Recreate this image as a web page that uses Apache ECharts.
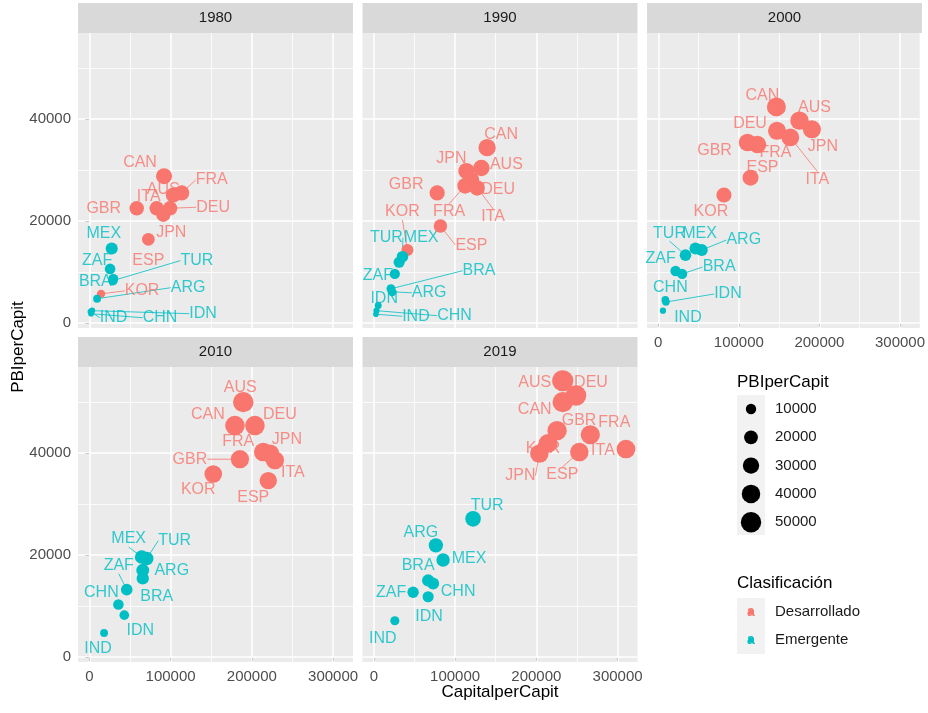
<!DOCTYPE html>
<html>
<head>
<meta charset="utf-8">
<script src="https://cdn.jsdelivr.net/npm/echarts@6/dist/echarts.min.js"></script>
<style>
  html, body { margin: 0; padding: 0; background: #fff; }
  #main { width: 928px; height: 713px; }
</style>
</head>
<body>
<div id="main"></div>
<script>
// datos
const countries = ['AUS', 'CAN', 'DEU', 'ESP', 'FRA', 'GBR', 'ITA', 'JPN', 'KOR',
                   'ARG', 'BRA', 'CHN', 'IDN', 'IND', 'MEX', 'TUR', 'ZAF'];
const clasificacion = ['Desarrollado', 'Desarrollado', 'Desarrollado', 'Desarrollado', 'Desarrollado',
                       'Desarrollado', 'Desarrollado', 'Desarrollado', 'Desarrollado',
                       'Emergente', 'Emergente', 'Emergente', 'Emergente', 'Emergente',
                       'Emergente', 'Emergente', 'Emergente'];
const years = ['1980', '1990', '2000', '2010', '2019'];

const capital1980 = [103300, 91900, 99300, 72600, 113600, 58300, 82900, 91000, 14400,
                     9500, 29500, 2100, 3300, 1500, 27500, 29000, 25500];
const pbi1980 = [25100, 28800, 22500, 16400, 25500, 22500, 22500, 21200, 5700,
                 4750, 8650, 1800, 2400, 2200, 14600, 8300, 10600];

const capital1990 = [132300, 139400, 119700, 81900, 112300, 77900, 127100, 113900, 41300,
                     22500, 21000, 3200, 5300, 2500, 31100, 35200, 25800];
const pbi1990 = [30400, 34400, 28100, 19000, 26900, 25500, 26500, 29800, 14300,
                 6100, 6700, 2400, 3400, 1700, 11900, 13000, 9600];

const capital2000 = [175300, 146600, 147400, 114500, 123200, 110800, 163900, 190700, 81500,
                     54000, 29600, 8800, 9500, 5800, 46200, 33800, 21500];
const pbi2000 = [39700, 42400, 37700, 28500, 35000, 35400, 36400, 38000, 25100,
                 14300, 9600, 4500, 4100, 2400, 14600, 13300, 10200];

const capital2010 = [189400, 179200, 203800, 220200, 214000, 185300, 228400, 222300, 152500,
                     65700, 65700, 35700, 43000, 18100, 64400, 70600, 46000];
const pbi2010 = [50000, 45400, 45400, 34600, 40200, 38800, 38600, 39900, 35900,
                 17000, 15400, 10300, 8200, 4700, 19600, 19300, 13200];

const capital2019 = [232500, 232500, 248800, 252900, 266400, 225500, 310300, 203700, 214400,
                     76300, 66800, 72900, 66800, 25800, 85200, 122100, 48300];
const pbi2019 = [54200, 50000, 51300, 40200, 43600, 44400, 40800, 39900, 41900,
                 21900, 15000, 14400, 11800, 7100, 19000, 27100, 12700];

const capitalByYear = [capital1980, capital1990, capital2000, capital2010, capital2019];
const pbiByYear = [pbi1980, pbi1990, pbi2000, pbi2010, pbi2019];

const xTicks = [0, 100000, 200000, 300000];
const xMinor = [50000, 150000, 250000];
const yTicks = [0, 20000, 40000];
const yMinor = [10000, 30000, 50000];
const sizeBreaks = [10000, 20000, 30000, 40000, 50000];
const classNames = ['Desarrollado', 'Emergente'];

// estilos
const colors = { Desarrollado: '#F8766D', Emergente: '#00BFC4' };
const FONT = 'Liberation Sans, Arial, sans-serif';
const dotSize = v => 2.3 + 0.081 * Math.sqrt(v);

// posición de las etiquetas (dx, dy en px desde el punto), imitando ggrepel
const labelOffset = [
  { AUS: [-10, -5], CAN: [-24, -14], DEU: [43, -1], ESP: [0, 21], FRA: [30, -13], GBR: [-33, 0],
    ITA: [-8, -12], JPN: [8, 18], KOR: [41, -3], ARG: [91, -11], BRA: [-18, 3], CHN: [69, 4],
    IDN: [111, 3], IND: [23, 6], MEX: [-8, -15], TUR: [84, -20], ZAF: [-13, -8] },
  { AUS: [25, -3], CAN: [14, -13], DEU: [27, 10], ESP: [31, 19], FRA: [-16, 26], GBR: [-31, -8],
    ITA: [16, 29], JPN: [-15, -12], KOR: [-5, -38], ARG: [37, 1], BRA: [88, -18], CHN: [78, 5],
    IDN: [6, -7], IND: [40, 2], MEX: [22, -25], TUR: [-16, -19], ZAF: [-17, 2] },
  { AUS: [15, -13], CAN: [-14, -11], DEU: [-27, -7], ESP: [12, -10], FRA: [18, 8], GBR: [-33, 8],
    ITA: [27, 42], JPN: [11, 17], KOR: [-13, 17], ARG: [42, -10], BRA: [37, -7], CHN: [5, -12],
    IDN: [62, -8], IND: [25, 7], MEX: [4, -15], TUR: [-16, -22], ZAF: [-15, -12] },
  { AUS: [-3, -15], CAN: [-27, -11], DEU: [25, -11], ESP: [-15, 17], FRA: [-25, -10], GBR: [-50, 0],
    ITA: [18, 12], JPN: [17, -14], KOR: [-15, 16], ARG: [29, 0], BRA: [14, 18], CHN: [-17, -12],
    IDN: [16, 15], IND: [-6, 16], MEX: [-13, -18], TUR: [28, -18], ZAF: [-8, -24] },
  { AUS: [-28, 2], CAN: [-28, 7], DEU: [15, -13], ESP: [-17, 23], FRA: [24, -12], GBR: [22, -10],
    ITA: [-23, 2], JPN: [-19, 22], KOR: [-5, 5], ARG: [-15, -13], BRA: [-10, -15], CHN: [25, 8],
    IDN: [1, 20], IND: [-12, 18], MEX: [26, -2], TUR: [14, -13], ZAF: [-22, 0] }
];
const labelLines = [
  ['FRA', 'DEU', 'TUR', 'KOR', 'ARG', 'IND', 'CHN', 'IDN'],
  ['DEU', 'ITA', 'FRA', 'KOR', 'ESP', 'TUR', 'BRA', 'ARG', 'IND', 'CHN'],
  ['ITA', 'TUR', 'ARG', 'BRA', 'IDN'],
  ['GBR', 'MEX', 'TUR', 'ZAF'],
  ['JPN', 'ESP']
];

const panels = [
  { left: 78, top: 33 }, { left: 362.5, top: 33 }, { left: 647, top: 33 },
  { left: 78, top: 367 }, { left: 362.5, top: 367 }
];
const PW = 275, PH = 295;
const showX = [false, false, true, true, true];
const showY = [true, false, false, true, false];

let grids = [], xAxes = [], yAxes = [], series = [], graphics = [];

panels.forEach((p, i) => {
  grids.push({
    left: p.left, top: p.top, width: PW, height: PH,
    show: true, backgroundColor: '#EBEBEB', borderWidth: 0
  });
  xAxes.push({
    type: 'value', gridIndex: i, min: -14000, max: 324500,
    axisLine: { show: false },
    splitLine: { show: false },
    axisTick: { show: showX[i], customValues: xTicks, length: 4, lineStyle: { color: '#333333', width: 1 } },
    axisLabel: { show: showX[i], customValues: xTicks, formatter: v => String(v),
                 color: '#4D4D4D', fontSize: 15, fontFamily: FONT, margin: 7 }
  });
  yAxes.push({
    type: 'value', gridIndex: i, min: -1000, max: 56900,
    axisLine: { show: false },
    splitLine: { show: false },
    axisTick: { show: showY[i], customValues: yTicks, length: 4, lineStyle: { color: '#333333', width: 1 } },
    axisLabel: { show: showY[i], customValues: yTicks, formatter: v => String(v),
                 color: '#4D4D4D', fontSize: 15, fontFamily: FONT, margin: 7 }
  });

  const major = { color: '#FFFFFF', width: 1.5, type: 'solid' };
  const minor = { color: '#FFFFFF', width: 0.8, type: 'solid' };
  const gridLines = []
    .concat(xTicks.map(v => ({ xAxis: v, lineStyle: major })))
    .concat(xMinor.map(v => ({ xAxis: v, lineStyle: minor })))
    .concat(yTicks.map(v => ({ yAxis: v, lineStyle: major })))
    .concat(yMinor.map(v => ({ yAxis: v, lineStyle: minor })));

  const xs = capitalByYear[i], ys = pbiByYear[i];
  const offs = labelOffset[i];

  // capa de etiquetas (debajo de los puntos, como en el original)
  series.push({
    type: 'scatter', xAxisIndex: i, yAxisIndex: i, z: 2,
    symbolSize: 1,
    itemStyle: { color: 'transparent' },
    silent: true,
    data: countries.map((c, k) => {
      const col = colors[clasificacion[k]];
      return {
        name: c, value: [xs[k], ys[k]],
        label: { color: col },
        labelLine: { show: labelLines[i].indexOf(c) >= 0, lineStyle: { color: col, width: 0.8 } }
      };
    }),
    label: {
      show: true, position: 'inside', formatter: '{b}',
      fontSize: 16, fontFamily: FONT
    },
    labelLine: { show: false, lineStyle: { width: 0.8 } },
    labelLayout: function (prm) {
      const o = offs[countries[prm.dataIndex]] || [0, 0];
      return { dx: o[0], dy: o[1] };
    },
    markLine: {
      z: 1, silent: true, symbol: ['none', 'none'],
      label: { show: false }, data: gridLines
    }
  });

  // puntos
  series.push({
    type: 'scatter', xAxisIndex: i, yAxisIndex: i, z: 3,
    symbol: 'circle',
    symbolSize: val => dotSize(val[1]),
    data: countries.map((c, k) => ({
      name: c, value: [xs[k], ys[k]],
      itemStyle: { color: colors[clasificacion[k]], opacity: 1 }
    }))
  });

  // franja con el año
  graphics.push({
    type: 'rect', left: p.left, top: p.top - 30,
    shape: { width: PW, height: 30 },
    style: { fill: '#D9D9D9' }
  });
  graphics.push({
    type: 'text', x: p.left + PW / 2, y: p.top - 15,
    style: { text: years[i], fill: '#1A1A1A', font: '15px ' + FONT, textAlign: 'center', textVerticalAlign: 'middle' }
  });
});

// títulos de los ejes
graphics.push({
  type: 'text', x: 500, y: 692,
  style: { text: 'CapitalperCapit', fill: '#000', font: '17px ' + FONT, textAlign: 'center', textVerticalAlign: 'middle' }
});
graphics.push({
  type: 'text', x: 18, y: 347, rotation: Math.PI / 2,
  style: { text: 'PBIperCapit', fill: '#000', font: '17px ' + FONT, textAlign: 'center', textVerticalAlign: 'middle' }
});

// leyenda de tamaño
graphics.push({
  type: 'text', x: 737, y: 382,
  style: { text: 'PBIperCapit', fill: '#000', font: '17px ' + FONT, textAlign: 'left', textVerticalAlign: 'middle' }
});
graphics.push({ type: 'rect', left: 737, top: 395, shape: { width: 28, height: 140 }, style: { fill: '#F2F2F2' } });
sizeBreaks.forEach((v, j) => {
  const cy = 409 + 28.3 * j;
  graphics.push({ type: 'circle', shape: { cx: 751, cy: cy, r: dotSize(v) / 2 }, style: { fill: '#000' } });
  graphics.push({
    type: 'text', x: 775, y: cy,
    style: { text: String(v), fill: '#1A1A1A', font: '15px ' + FONT, textAlign: 'left', textVerticalAlign: 'middle' }
  });
});

// leyenda de color
graphics.push({
  type: 'text', x: 737, y: 583,
  style: { text: 'Clasificación', fill: '#000', font: '17px ' + FONT, textAlign: 'left', textVerticalAlign: 'middle' }
});
graphics.push({ type: 'rect', left: 737, top: 598, shape: { width: 28, height: 56 }, style: { fill: '#F2F2F2' } });
classNames.forEach((n, j) => {
  const cy = 612 + 28 * j;
  graphics.push({ type: 'circle', shape: { cx: 751, cy: cy, r: 2.8 }, style: { fill: colors[n] } });
  graphics.push({
    type: 'text', x: 751, y: cy,
    style: { text: 'a', fill: colors[n], font: 'bold 14px ' + FONT, textAlign: 'center', textVerticalAlign: 'middle' }
  });
  graphics.push({
    type: 'text', x: 775, y: cy,
    style: { text: n, fill: '#1A1A1A', font: '15px ' + FONT, textAlign: 'left', textVerticalAlign: 'middle' }
  });
});

const chart = echarts.init(document.getElementById('main'), null, { renderer: 'canvas' });
chart.setOption({
  animation: false,
  backgroundColor: '#FFFFFF',
  grid: grids,
  xAxis: xAxes,
  yAxis: yAxes,
  series: series,
  graphic: { elements: graphics }
});
window.addEventListener('resize', () => { chart.resize(); });
</script>
</body>
</html>
